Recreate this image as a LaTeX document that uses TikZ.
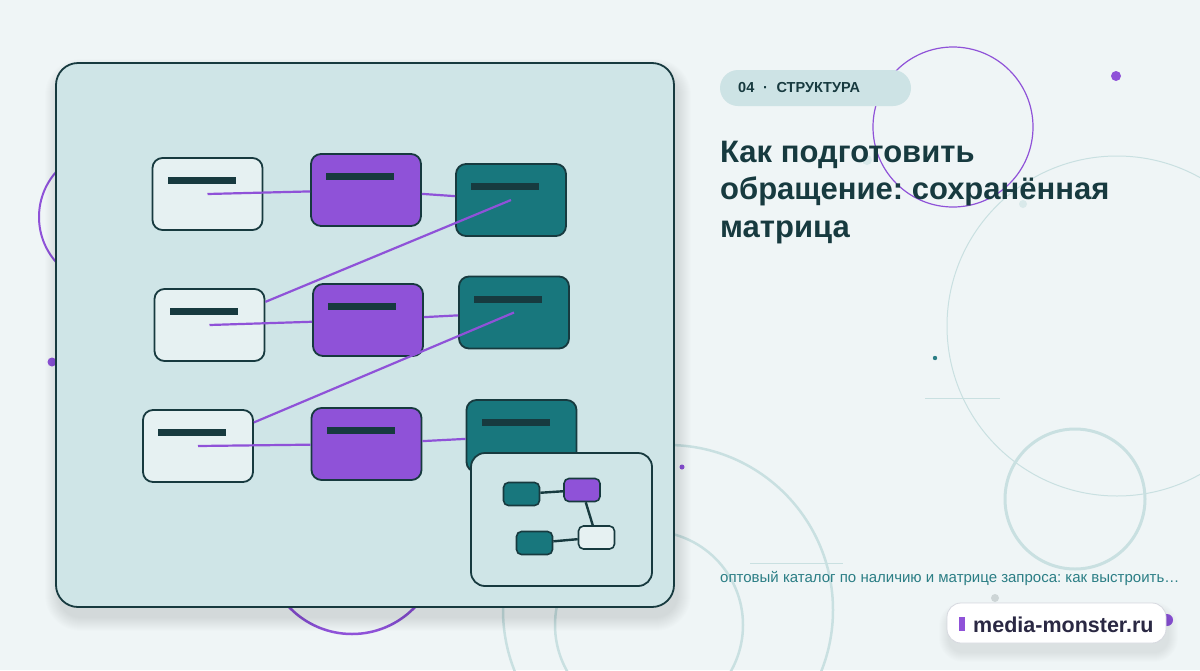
\documentclass[tikz,border=0pt]{standalone}
\usepackage{fontspec}
\setmainfont{Liberation Sans}
\frenchspacing

\definecolor{bgcol}{HTML}{EFF5F6}
\definecolor{panelcol}{HTML}{CFE5E7}
\definecolor{ink}{HTML}{173A3F}
\definecolor{mmviolet}{HTML}{8F52D8}
\definecolor{sea}{HTML}{18777D}
\definecolor{pale}{HTML}{E6F1F2}
\definecolor{tagcol}{HTML}{CDE3E5}
\definecolor{ring}{HTML}{C9E0E1}
\definecolor{subcol}{HTML}{2B7E85}
\definecolor{sitecol}{HTML}{2A2843}

\begin{document}
\begin{tikzpicture}[x=1pt, y=-1pt,
    box/.style={draw=ink, line width=1.8pt, rounded corners=10pt, minimum width=110pt, minimum height=72pt, inner sep=0pt},
    srcbox/.style={box, fill=pale},
    midbox/.style={box, fill=mmviolet},
    dstbox/.style={box, fill=sea},
    bar/.style={fill=ink, minimum width=68pt, minimum height=7pt, inner sep=0pt, anchor=west},
    link/.style={mmviolet, line width=2.2pt},
    minibox/.style={draw=ink, line width=1.6pt, rounded corners=5pt, minimum width=36pt, minimum height=23pt, inner sep=0pt},
    wire/.style={ink, line width=2.4pt},
    title/.style={anchor=base west, inner sep=0pt, text=ink, font=\bfseries\fontsize{31}{36}\selectfont}
]
    % Canvas
    \useasboundingbox (0,0) rectangle (1200,670);
    \clip (0,0) rectangle (1200,670);
    \fill[bgcol] (0,0) rectangle (1200,670);

    % Background rings and dots
    \draw[mmviolet, line width=1.2pt] (953,127) circle (80);
    \draw[ring, line width=1pt] (1117,326) circle (170);
    \draw[ring, line width=3pt] (1075,499) circle (70);
    \draw[ring, line width=2.5pt] (668,610) circle (165);
    \draw[ring, line width=2.5pt] (649,625) circle (94);
    \draw[mmviolet, line width=2pt] (107,217) circle (68);
    \draw[mmviolet, line width=2.5pt] (352,547) circle (87);
    \draw[ring, line width=0.8pt] (925,398) -- (1000,398);
    \draw[ring, line width=0.8pt] (750,563) -- (843,563);
    \fill[mmviolet] (1116,76) circle (5);
    \fill[mmviolet] (52,362) circle (4.5);
    \fill[mmviolet] (682,467) circle (2.5);
    \fill[subcol] (935,358) circle (2.2);
    \fill[ring!70] (867,160) circle (5);
    \fill[ring!70] (1023,204) circle (4);
    \fill[ring!60!gray!60] (995,598) circle (4);
    \fill[mmviolet] (1167,620) circle (6);

    % Panel with soft shadow
    \foreach \k in {1,...,14} {
        \fill[black, opacity=0.009, rounded corners=22pt+\k pt]
            (56-\k+3,63-\k+10) rectangle (674+\k+3,607+\k+10);
    }
    \node[draw=ink, line width=1.8pt, fill=panelcol, rounded corners=22pt,
          minimum width=618pt, minimum height=544pt, inner sep=0pt] (panel) at (365,335) {};

    % Matrix rows
    \foreach \i/\ax/\ay/\bx/\by/\cx/\cy in {
        1/207.5/194/366/190/511/200,
        2/209.5/325/368/320/514/312.5,
        3/198/446/366.5/444/521.5/436} {
        \node[srcbox] (src\i) at (\ax,\ay) {};
        \node[midbox] (mid\i) at (\bx,\by) {};
        \node[dstbox] (dst\i) at (\cx,\cy) {};
    }
    \foreach \n in {src1,mid1,dst1,src2,mid2,dst2,src3,mid3,dst3} {
        \node[bar] (\n-bar) at ([shift={(16,23.5)}]\n.north west) {};
    }

    % Links
    \foreach \i in {1,2,3} {
        \draw[link] (src\i.center) -- (mid\i);
        \draw[link] (mid\i) -- (dst\i);
    }
    \draw[link] (dst1.center) -- (src2);
    \draw[link] (dst2.center) -- (src3);

    % Inset
    \node[draw=ink, line width=1.8pt, fill=panelcol, rounded corners=14pt,
          minimum width=181pt, minimum height=133pt, inner sep=0pt] (inset) at (561.5,519.5) {};
    \node[minibox, fill=sea] (mA) at (521.5,494) {};
    \node[minibox, fill=mmviolet] (mB) at (582,490) {};
    \node[minibox, fill=pale] (mC) at (596.5,537.5) {};
    \node[minibox, fill=sea] (mD) at (534.5,543) {};
    \draw[wire] (mA) -- (mB);
    \draw[wire] (mB) -- (mC);
    \draw[wire] (mD) -- (mC);

    % Tag and title
    \node[fill=tagcol, rounded corners=18pt, minimum width=191pt, minimum height=36pt, inner sep=0pt] (tag) at (815.5,88) {};
    \node[anchor=base west, inner sep=0pt, text=ink, font=\bfseries\fontsize{14.5}{17}\selectfont]
        (tagtext) at (738,92) {04\hspace{0.6em}·\hspace{0.6em}СТРУКТУРА};
    \node[title] (title1) at (720,162) {Как подготовить};
    \node[title] (title2) at (720,199.5) {обращение: сохранённая};
    \node[title] (title3) at (720,237) {матрица};

    % Footer
    \node[anchor=base west, inner sep=0pt, text=subcol, font=\fontsize{15}{18}\selectfont]
        (subtitle) at (720,582) {оптовый каталог по наличию и матрице запроса: как выстроить…};
    \foreach \k in {1,...,10} {
        \fill[black, opacity=0.008, rounded corners=14pt+\k pt]
            (947-\k+2,603-\k+9) rectangle (1166+\k+2,643+\k+9);
    }
    \node[draw=mmviolet!25!ink!20, line width=0.8pt, fill=white!97!bgcol, rounded corners=14pt,
          minimum width=219pt, minimum height=40pt, inner sep=0pt] (badge) at (1056.5,623) {};
    \fill[mmviolet] (959,617) rectangle (965,631);
    \node[anchor=base west, inner sep=0pt, text=sitecol, font=\bfseries\fontsize{21.5}{24}\selectfont]
        (site) at (973,632) {media-monster.ru};
\end{tikzpicture}
\end{document}
